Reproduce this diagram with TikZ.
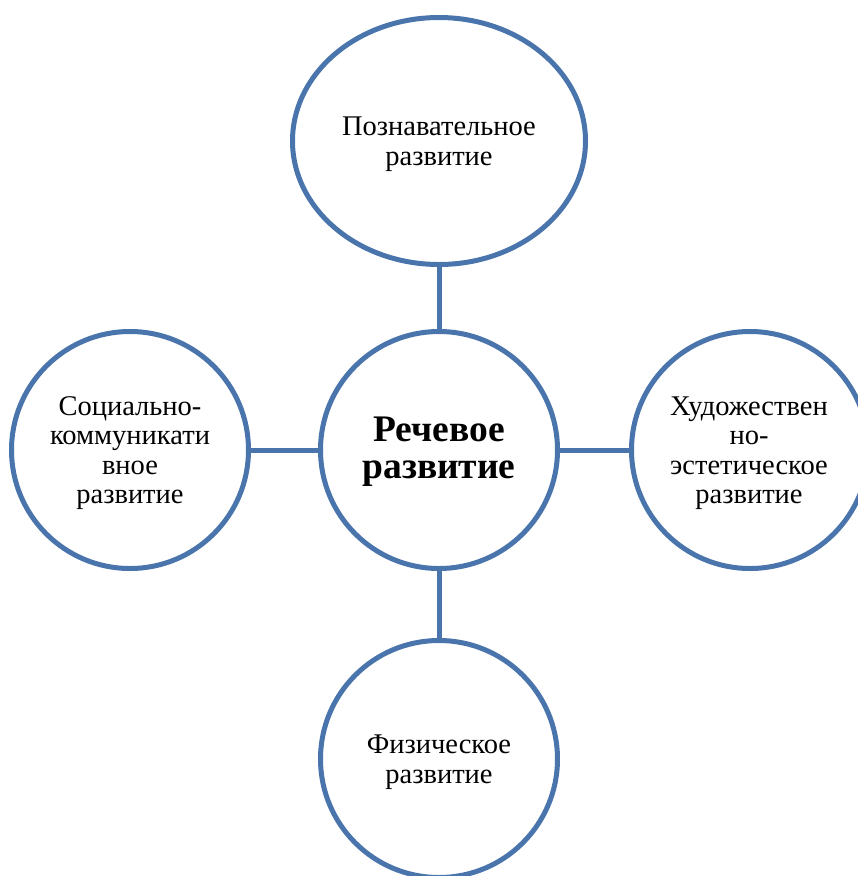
\documentclass[tikz,border=0pt]{standalone}
\usepackage{fontspec}
\setmainfont{Liberation Serif}
\usetikzlibrary{shapes.geometric}
\definecolor{ringblue}{RGB}{74,117,172}
\tikzset{
  ring/.style={circle, draw=ringblue, line width=5pt, minimum size=237pt, inner sep=0pt, outer sep=0pt, fill=white},
  topring/.style={ellipse, draw=ringblue, line width=5pt, minimum width=293pt, minimum height=247pt, inner sep=0pt, outer sep=0pt},
  txt/.style={align=center, inner sep=0pt, font=\fontsize{28.5}{29.5}\selectfont},
  bigtxt/.style={align=center, inner sep=0pt, font=\bfseries\fontsize{37.5}{37}\selectfont},
  link/.style={draw=ringblue, line width=5pt}
}
\begin{document}
\begin{tikzpicture}[x=1pt,y=-1pt]
\useasboundingbox (0,0) rectangle (858,876);
\clip (0,0) rectangle (858,876);
\node[topring] (top) at (439,141) {};
\node[ring] (mid) at (439,450) {};
\node[ring] (left) at (130,450) {};
\node[ring] (right) at (750,450) {};
\node[ring] (bot) at (439,759) {};
\node[txt] (topt) at ([yshift=-3pt]top.center) {Познавательное\\развитие};
\node[bigtxt] (midt) at ([yshift=-2pt]mid.center) {Речевое\\развитие};
\node[txt] (leftt) at ([yshift=-3pt]left.center) {Социально-\\коммуникати\\вное\\развитие};
\node[txt] (rightt) at ([yshift=-3pt,xshift=-1pt]right.center) {Художествен\\но-\\эстетическое\\развитие};
\node[txt] (bott) at ([yshift=-3pt]bot.center) {Физическое\\развитие};
\draw[link] (top.south) -- (mid.north);
\draw[link] (left.east) -- (mid.west);
\draw[link] (mid.east) -- (right.west);
\draw[link] (mid.south) -- (bot.north);
\end{tikzpicture}
\end{document}
